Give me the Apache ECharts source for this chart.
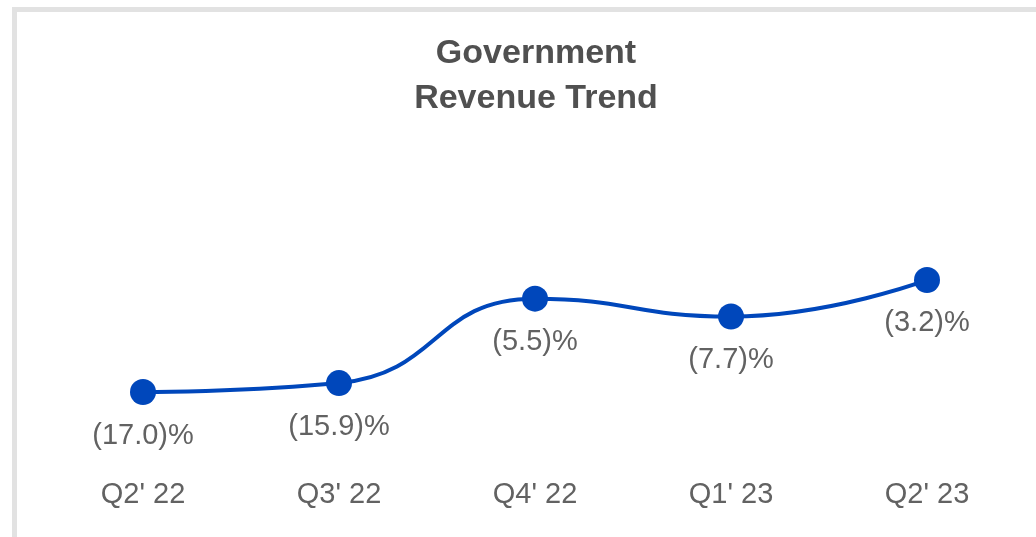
<!DOCTYPE html>
<html lang="en">
<head>
  <meta charset="UTF-8">
  <title>Government Revenue Trend</title>
  <style>
    * { margin: 0; padding: 0; box-sizing: border-box; }
    body { width: 1036px; height: 537px; overflow: hidden; background: #fff; position: relative; }
    /* card frame, cropped on the right and bottom */
    .frame {
      position: absolute; left: 12px; top: 7px;
      width: 1100px; height: 600px;
      border-top: 5px solid #e2e2e2;
      border-left: 5px solid #e2e2e2;
    }
    #chart { position: absolute; left: 0; top: 0; width: 1036px; height: 537px; }
  </style>
</head>
<body>
  <div class="frame"></div>
  <div id="chart"></div>

  <script src="https://cdn.jsdelivr.net/npm/echarts@6/dist/echarts.min.js"></script>
  <script>
    // data (growth %, negatives shown in brackets)
    const quarters = ["Q2' 22", "Q3' 22", "Q4' 22", "Q1' 23", "Q2' 23"];
    const growth = [-17.0, -15.9, -5.5, -7.7, -3.2];

    const chart = echarts.init(document.getElementById('chart'));

    chart.setOption({
      backgroundColor: 'transparent',
      title: {
        text: 'Government\nRevenue Trend',
        left: 536,
        top: 31,
        padding: 0,
        textAlign: 'center',
        textStyle: {
          color: '#505050',
          fontFamily: 'Liberation Sans',
          fontSize: 34,
          fontWeight: 'bold',
          lineHeight: 45
        }
      },
      grid: { left: 45, right: 11, top: 254, bottom: 120.6 },
      xAxis: {
        type: 'category',
        data: quarters,
        boundaryGap: true,
        axisLine: { show: false },
        axisTick: { show: false },
        axisLabel: {
          color: '#626262',
          fontFamily: 'Liberation Sans',
          fontSize: 29,
          margin: 64
        }
      },
      yAxis: {
        type: 'value',
        min: -20,
        max: 0,
        show: false
      },
      series: [{
        type: 'line',
        data: growth,
        smooth: 0.5,
        symbol: 'circle',
        symbolSize: 26,
        lineStyle: { color: '#0047BB', width: 4 },
        itemStyle: { color: '#0047BB' },
        label: {
          show: true,
          position: 'bottom',
          distance: 16,
          color: '#626262',
          fontFamily: 'Liberation Sans',
          fontSize: 29,
          formatter: p => p.value < 0 ? '(' + Math.abs(p.value).toFixed(1) + ')%' : p.value.toFixed(1) + '%'
        },
        animation: false
      }]
    });
  </script>
</body>
</html>
